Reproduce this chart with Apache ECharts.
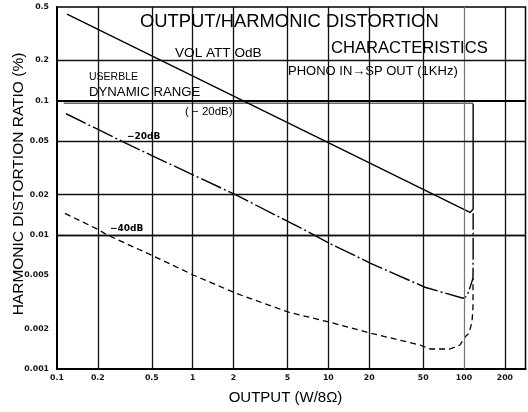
<!DOCTYPE html>
<html>
<head>
<meta charset="utf-8">
<script src="https://cdn.jsdelivr.net/npm/echarts@6/dist/echarts.min.js"></script>
<style>
html,body{margin:0;padding:0;background:#fff;}
#chart{width:528px;height:412px;}
</style>
</head>
<body>
<div id="chart"></div>
<script>
// Tick values (log axes)
const xTicks = [0.1, 0.2, 0.5, 1, 2, 5, 10, 20, 50, 100, 200];
const yTicks = [0.001, 0.002, 0.005, 0.01, 0.02, 0.05, 0.1, 0.2, 0.5];
const xGrid = [0.2, 0.5, 1, 2, 5, 10, 20, 50, 100, 200];
const yGrid = [0.002, 0.005, 0.01, 0.02, 0.05, 0.1, 0.2];

// Output (W) vs THD (%)
const curve0dB = [[0.1185, 0.443], [110.7, 0.0147], [114.5, 0.0146], [116.8, 0.0155], [116.8, 0.095]];
const curveM20dB = [[0.1165, 0.080], [0.307, 0.0494], [0.5, 0.039], [2.12, 0.0197], [7.7, 0.0101],
  [10.2, 0.00865], [20.5, 0.00614], [51.5, 0.00407], [98.4, 0.00337], [103, 0.00345], [107, 0.00367],
  [112, 0.0042], [116.5, 0.00475], [116.8, 0.0068], [116.8, 0.0145]];
const curveM40dB = [[0.1145, 0.01445], [0.2, 0.011], [0.234, 0.0100], [0.5, 0.00704], [1.02, 0.0050],
  [2.08, 0.00367], [5.1, 0.00265], [10.1, 0.00224], [20.5, 0.00185], [47.4, 0.00151], [56.1, 0.00141],
  [78.8, 0.00141], [93.4, 0.00151], [101.7, 0.00173], [108.8, 0.00185], [114.5, 0.00224],
  [116.5, 0.00289], [116.5, 0.00387], [116.5, 0.00475]];
const bracket = [[0.112, 0.0958], [116.8, 0.0958]];

const chart = echarts.init(document.getElementById('chart'), null, {renderer: 'canvas'});

const labelFont = {fontFamily: 'DejaVu Sans', fontWeight: 'bold', fontSize: 7.8, color: '#111'};
const fmt = v => {
  const s = Number(v).toPrecision(3);
  return String(parseFloat(s));
};

const gridLineStyle = {color: '#111', width: 1.3, type: 'solid'};

const option = {
  animation: false,
  backgroundColor: '#fff',
  grid: {left: 57, right: 2.5, top: 7, bottom: 43, show: true, borderColor: '#000', borderWidth: 1.5, backgroundColor: 'transparent'},
  xAxis: {
    type: 'log', logBase: 10, min: 0.1, max: 284,
    axisLine: {show: true, onZero: false, lineStyle: {color: '#000', width: 2}},
    axisTick: {show: false},
    splitLine: {show: false},
    minorSplitLine: {show: false},
    axisLabel: Object.assign({customValues: xTicks, formatter: fmt, margin: 5}, labelFont)
  },
  yAxis: {
    type: 'log', logBase: 10, min: 0.001, max: 0.5,
    axisLine: {show: true, onZero: false, lineStyle: {color: '#000', width: 2}},
    axisTick: {show: false},
    splitLine: {show: false},
    axisLabel: Object.assign({customValues: yTicks, formatter: fmt, margin: 8}, labelFont)
  },
  series: [
    {
      type: 'line', data: [], z: 1, silent: true,
      markLine: {
        silent: true, symbol: ['none', 'none'], label: {show: false},
        lineStyle: gridLineStyle,
        data: xGrid.map(v => ({xAxis: v, lineStyle: v === 100 ? {color: '#777', width: 1.2, type: 'solid'} : gridLineStyle}))
          .concat(yGrid.map(v => ({yAxis: v, lineStyle: v === 0.1 ? {color: '#000', width: 2, type: 'solid'} : gridLineStyle})))
      }
    },
    {
      name: 'bracket', type: 'line', data: bracket, z: 2, symbol: 'none', silent: true,
      lineStyle: {color: '#666', width: 1.3}
    },
    {
      name: '0dB', type: 'line', data: curve0dB, z: 3, symbol: 'none',
      lineStyle: {color: '#000', width: 1.4}
    },
    {
      name: '-20dB', type: 'line', data: curveM20dB, z: 3, symbol: 'none',
      lineStyle: {color: '#000', width: 1.4, type: [22, 3, 2, 3]}
    },
    {
      name: '-40dB', type: 'line', data: curveM40dB, z: 3, symbol: 'none',
      lineStyle: {color: '#000', width: 1.3, type: [6, 4]}
    }
  ],
  graphic: [
    {type: 'text', left: 140, top: 13, z: 10, style: {text: 'OUTPUT/HARMONIC DISTORTION', font: '18.4px "Liberation Sans", Arial, sans-serif', fill: '#000'}},
    {type: 'text', left: 331, top: 40, z: 10, style: {text: 'CHARACTERISTICS', font: '16.6px "Liberation Sans", Arial, sans-serif', fill: '#000'}},
    {type: 'text', left: 175, top: 46, z: 10, style: {text: 'VOL ATT OdB', font: '13.6px "Liberation Sans", Arial, sans-serif', fill: '#000'}},
    {type: 'text', left: 288, top: 65, z: 10, style: {text: 'PHONO IN\u2192SP OUT (1KHz)', font: '13px "Liberation Sans", Arial, sans-serif', fill: '#000'}},
    {type: 'text', left: 89, top: 72, z: 10, style: {text: 'USERBLE', font: '10.5px "Liberation Sans", Arial, sans-serif', fill: '#000'}},
    {type: 'text', left: 89, top: 86, z: 10, style: {text: 'DYNAMIC RANGE', font: '13.2px "Liberation Sans", Arial, sans-serif', fill: '#000'}},
    {type: 'text', left: 185, top: 106, z: 10, style: {text: '( \u2212 20dB)', font: '11.5px "Liberation Sans", Arial, sans-serif', fill: '#000'}},
    {type: 'text', left: 127, top: 132, z: 10, style: {text: '\u221220dB', font: 'bold 9px "DejaVu Sans", sans-serif', fill: '#000'}},
    {type: 'text', left: 110, top: 224, z: 10, style: {text: '\u221240dB', font: 'bold 9px "DejaVu Sans", sans-serif', fill: '#000'}},
    {type: 'text', x: 19, y: 184, rotation: Math.PI / 2, z: 10,
      style: {text: 'HARMONIC DISTORTION RATIO (%)', font: '15.5px "Liberation Sans", Arial, sans-serif', fill: '#000', align: 'center', verticalAlign: 'middle'}},
    {type: 'text', x: 285.5, y: 398, z: 10,
      style: {text: 'OUTPUT (W/8\u03A9)', font: '15px "Liberation Sans", Arial, sans-serif', fill: '#000', align: 'center', verticalAlign: 'middle'}}
  ]
};

chart.setOption(option);
</script>
</body>
</html>
